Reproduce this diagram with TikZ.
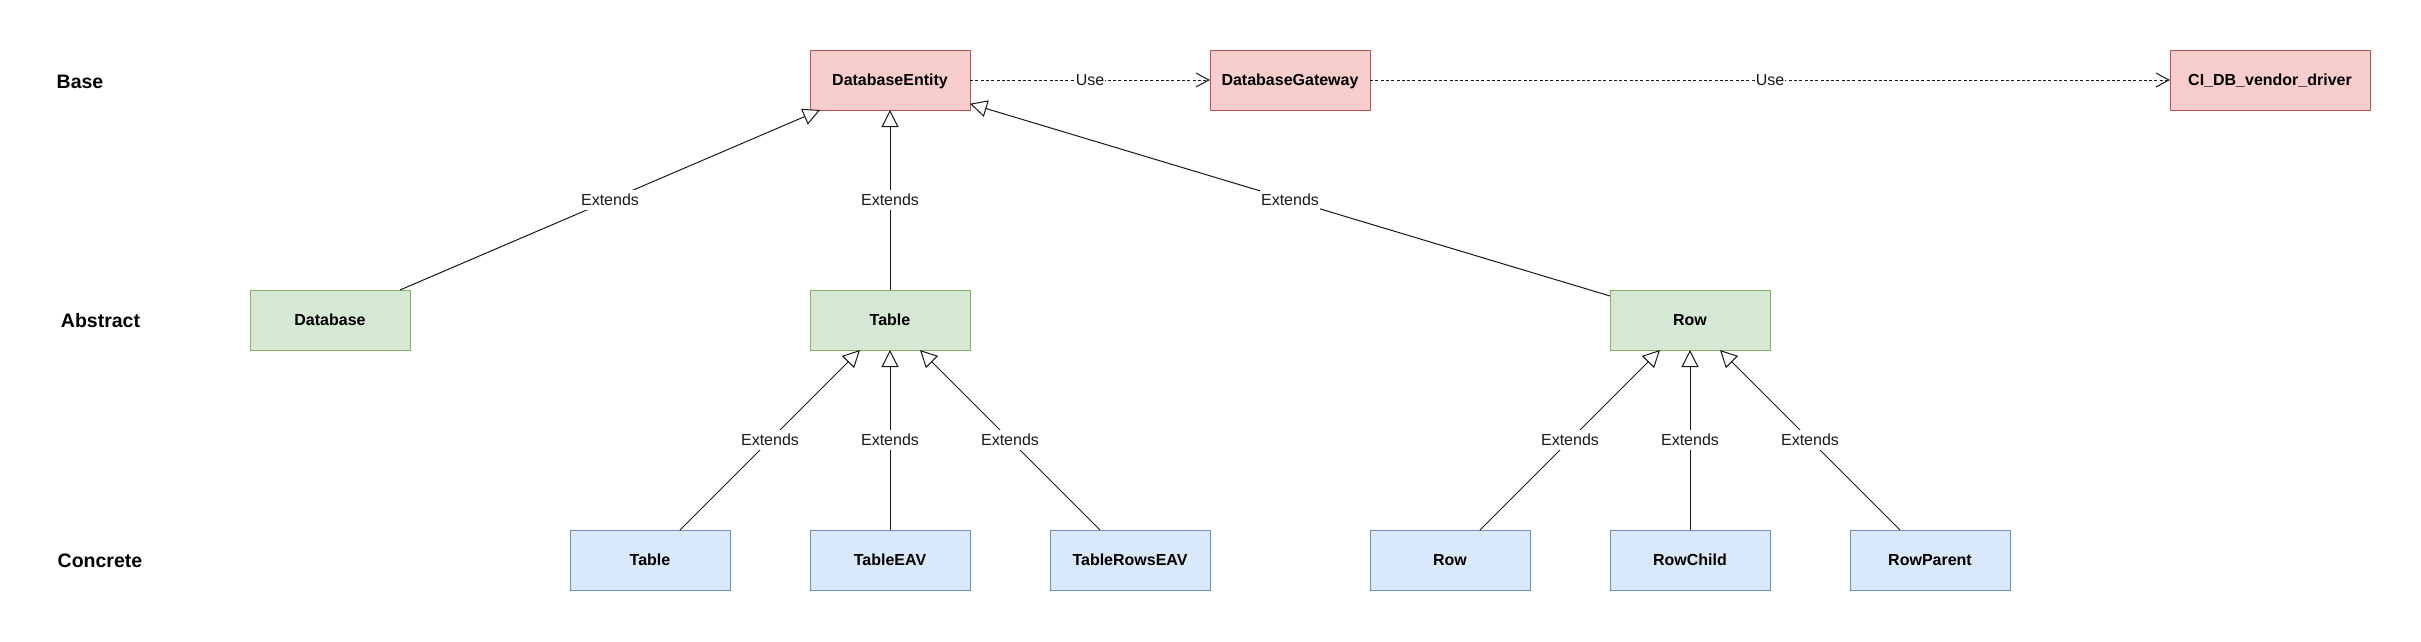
\documentclass[tikz,border=0pt]{standalone}
\usepackage{fontspec}
\setmainfont{Liberation Sans}
\usetikzlibrary{arrows.meta}
\definecolor{redfill}{HTML}{F8CECC}
\definecolor{redline}{HTML}{B85450}
\definecolor{greenfill}{HTML}{D5E8D4}
\definecolor{greenline}{HTML}{82B366}
\definecolor{bluefill}{HTML}{DAE8FC}
\definecolor{blueline}{HTML}{6C8EBF}
\begin{document}
\begin{tikzpicture}[x=1pt,y=-1pt,
  cls/.style={draw, line width=1pt, minimum width=160pt, minimum height=60pt,
    inner sep=0pt, outer sep=0pt, text height=11.5pt, text depth=0pt,
    font=\fontsize{16}{19}\selectfont\bfseries},
  basebox/.style={cls, fill=redfill, draw=redline},
  absbox/.style={cls, fill=greenfill, draw=greenline},
  conbox/.style={cls, fill=bluefill, draw=blueline},
  lane/.style={inner sep=0pt, text height=14pt, text depth=0pt,
    font=\fontsize{19.5}{23}\selectfont\bfseries},
  ext/.style={draw=black!90, line width=1pt,
    -{Triangle[length=17pt,width=17pt,fill=white,line width=1pt]}},
  use/.style={draw=black!90, line width=1pt, dash pattern=on 3pt off 2.3pt,
    -{Straight Barb[length=13pt,width=14pt,line width=1pt]}},
  lbl/.style={fill=white, inner xsep=1pt, inner ysep=4.25pt, text height=11.5pt,
    text depth=0pt, font=\fontsize{16}{19}\selectfont, text=black!90}
]
\useasboundingbox[fill=white] (0,0) rectangle (2421,641);

% lane labels
\node[lane] (lbase) at (80,81.5) {Base};
\node[lane] (labs)  at (100.5,320) {Abstract};
\node[lane] (lcon)  at (100,560) {Concrete};

% base row
\node[basebox] (de) at (890,80) {DatabaseEntity};
\node[basebox] (dg) at (1290,80) {DatabaseGateway};
\node[basebox, minimum width=200pt] (ci) at (2270,80) {CI\_DB\_vendor\_driver};

% abstract row
\node[absbox] (db)  at (330,320) {Database};
\node[absbox] (tab) at (890,320) {Table};
\node[absbox] (row) at (1690,320) {Row};

% concrete row
\node[conbox] (ctab)  at (650,560)  {Table};
\node[conbox] (ceav)  at (890,560)  {TableEAV};
\node[conbox] (crows) at (1130,560) {TableRowsEAV};
\node[conbox] (crow)  at (1450,560) {Row};
\node[conbox] (cchild) at (1690,560) {RowChild};
\node[conbox] (cpar)  at (1930,560) {RowParent};

% use dependencies
\draw[use] (de) -- node[lbl] {Use} (dg);
\draw[use] (dg) -- node[lbl] {Use} (ci);

% generalizations
\draw[ext] (db)  -- node[lbl] {Extends} (de);
\draw[ext] (tab) -- node[lbl] {Extends} (de);
\draw[ext] (row) -- node[lbl] {Extends} (de);

\draw[ext] (ctab)  -- node[lbl] {Extends} (tab);
\draw[ext] (ceav)  -- node[lbl] {Extends} (tab);
\draw[ext] (crows) -- node[lbl] {Extends} (tab);

\draw[ext] (crow)   -- node[lbl] {Extends} (row);
\draw[ext] (cchild) -- node[lbl] {Extends} (row);
\draw[ext] (cpar)   -- node[lbl] {Extends} (row);
\end{tikzpicture}
\end{document}
